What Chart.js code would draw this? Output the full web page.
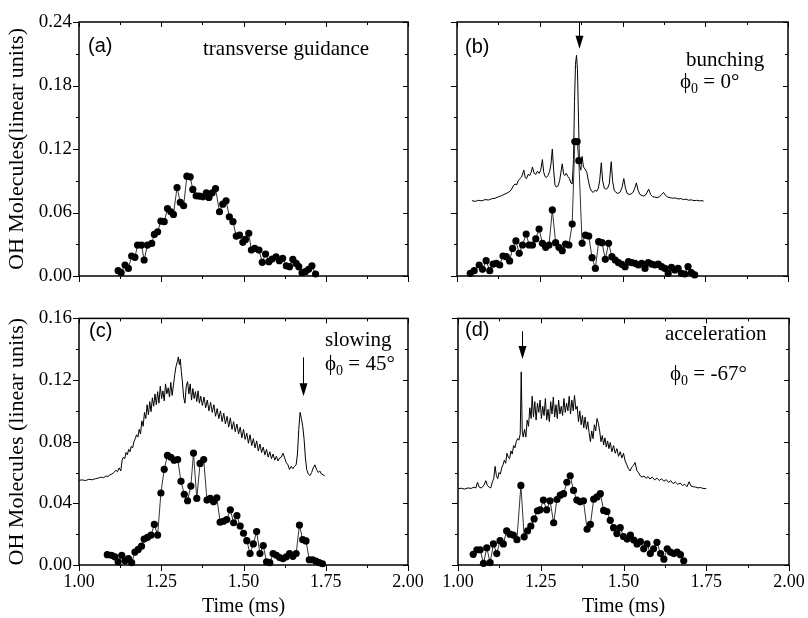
<!DOCTYPE html>
<html>
<head>
<meta charset="utf-8">
<script src="https://cdn.jsdelivr.net/npm/chart.js@4.4.1/dist/chart.umd.min.js"></script>
<style>
body { margin: 0; background: #fff; width: 808px; height: 618px; position: relative; overflow: hidden; }
canvas { position: absolute; }
</style>
</head>
<body>
<canvas id="pa" width="420" height="300" style="left:0;top:0"></canvas>
<canvas id="pb" width="388" height="300" style="left:420px;top:0"></canvas>
<canvas id="pc" width="440" height="318" style="left:0;top:300px"></canvas>
<canvas id="pd" width="388" height="318" style="left:420px;top:300px"></canvas>
<script>
// ---- data (time in ms, signal in linear units) ----

// (a) transverse guidance, measured points
const aDotT = [1.119,1.128,1.140,1.150,1.160,1.170,1.178,1.190,1.198,1.208,
  1.221,1.229,1.239,1.249,1.259,1.269,1.279,1.287,1.298,1.308,
  1.318,1.328,1.338,1.346,1.356,1.366,1.377,1.387,1.395,1.405,
  1.415,1.427,1.437,1.447,1.457,1.468,1.478,1.488,1.498,1.506,
  1.516,1.524,1.534,1.547,1.557,1.567,1.577,1.587,1.599,1.609,
  1.619,1.630,1.640,1.650,1.660,1.668,1.678,1.688,1.698,1.708,1.719];
const aDotV = [0.0050,0.0031,0.0104,0.0072,0.0189,0.0176,0.0292,0.0292,0.0151,0.0292,
  0.0308,0.0393,0.0418,0.0519,0.0513,0.0638,0.0607,0.0582,0.0836,0.0695,
  0.0664,0.0943,0.0937,0.0818,0.0758,0.0755,0.0748,0.0786,0.0742,0.0786,
  0.0827,0.0607,0.0679,0.0711,0.0560,0.0513,0.0377,0.0387,0.0318,0.0346,
  0.0403,0.0245,0.0261,0.0245,0.0129,0.0208,0.0135,0.0160,0.0182,0.0145,
  0.0167,0.0097,0.0088,0.0157,0.0119,0.0088,0.0031,0.0041,0.0063,0.0097,0.0019];

// (b) bunching
const bDotT = [1.040,1.052,1.067,1.077,1.088,1.099,1.109,1.119,1.129,1.139,
  1.149,1.159,1.168,1.178,1.188,1.198,1.209,1.218,1.228,1.238,
  1.248,1.258,1.268,1.278,1.288,1.298,1.308,1.318,1.328,1.338,
  1.348,1.356,1.363,1.368,1.378,1.388,1.398,1.408,1.418,1.428,
  1.438,1.448,1.458,1.468,1.478,1.488,1.498,1.508,1.518,1.528,
  1.538,1.548,1.558,1.568,1.578,1.588,1.598,1.608,1.618,1.628,
  1.638,1.648,1.658,1.668,1.678,1.688,1.698,1.708,1.718];
const bDotV = [0.0025,0.0050,0.0104,0.0063,0.0145,0.0050,0.0113,0.0120,0.0104,0.0189,
  0.0183,0.0142,0.0261,0.0331,0.0214,0.0293,0.0397,0.0293,0.0293,0.0350,
  0.0444,0.0309,0.0271,0.0293,0.0624,0.0315,0.0271,0.0239,0.0302,0.0293,
  0.0491,0.1270,0.1270,0.1090,0.0309,0.0387,0.0378,0.0173,0.0072,0.0324,
  0.0315,0.0158,0.0309,0.0183,0.0151,0.0126,0.0110,0.0088,0.0135,0.0126,
  0.0120,0.0104,0.0120,0.0072,0.0126,0.0113,0.0104,0.0113,0.0088,0.0072,
  0.0025,0.0082,0.0057,0.0072,0.0025,0.0019,0.0088,0.0031,0.0010];
const bTraceT = [1.045,1.055,1.065,1.075,1.085,1.095,1.105,1.115,1.125,1.135,
  1.145,1.155,1.163,1.170,1.175,1.180,1.185,1.190,1.195,1.202,
  1.206,1.210,1.215,1.220,1.224,1.228,1.233,1.238,1.243,1.248,
  1.253,1.258,1.262,1.266,1.270,1.275,1.280,1.284,1.288,1.292,
  1.296,1.300,1.305,1.310,1.314,1.318,1.322,1.326,1.330,1.335,
  1.340,1.344,1.348,1.352,1.355,1.358,1.361,1.364,1.367,1.370,
  1.374,1.378,1.382,1.387,1.392,1.397,1.402,1.407,1.412,1.417,
  1.422,1.427,1.431,1.436,1.440,1.445,1.450,1.455,1.460,1.466,
  1.470,1.475,1.480,1.486,1.492,1.498,1.504,1.509,1.514,1.520,
  1.526,1.532,1.537,1.542,1.547,1.553,1.559,1.565,1.571,1.579,
  1.585,1.591,1.598,1.605,1.612,1.618,1.624,1.630,1.637,1.644,
  1.652,1.660,1.668,1.676,1.684,1.692,1.700,1.708,1.716,1.724,
  1.732,1.740,1.745];
const bTraceV = [.0712,.0705,.0715,.0710,.0722,.0718,.0730,.0735,.0748,.0760,
  .0775,.0790,.0810,.0850,.0870,.0860,.0900,.0920,.0935,.1000,
  .0930,.0920,.0960,.0950,.0980,.1030,.0970,.0960,.0990,.0970,
  .1000,.1100,.0980,.0940,.0930,.0950,.0990,.1060,.1200,.1000,
  .0860,.0840,.0850,.0900,.0980,.1060,.0960,.0950,.0970,.0940,
  .0920,.0880,.0870,.1100,.1650,.2000,.2085,.1950,.1500,.1050,
  .1000,.1130,.1030,.1010,.0980,.0900,.0830,.0800,.0790,.0810,
  .0800,.0830,.0900,.1070,.0900,.0830,.0820,.0830,.0870,.1080,
  .0900,.0810,.0790,.0780,.0790,.0830,.0920,.0830,.0780,.0770,
  .0775,.0790,.0830,.0880,.0810,.0770,.0760,.0755,.0770,.0820,
  .0770,.0750,.0745,.0740,.0750,.0770,.0790,.0760,.0745,.0740,
  .0735,.0738,.0728,.0732,.0722,.0726,.0716,.0720,.0712,.0715,
  .0710,.0712,.0708];
const bArrow = [1.368, 0.240, 0.2148];   // time, shaft top, tip

// (c) slowing
const cDotT = [1.086,1.099,1.109,1.119,1.130,1.140,1.150,1.160,1.170,1.180,
  1.190,1.198,1.208,1.219,1.229,1.239,1.249,1.259,1.269,1.279,
  1.289,1.300,1.310,1.320,1.330,1.340,1.348,1.358,1.368,1.379,
  1.389,1.399,1.409,1.419,1.429,1.439,1.449,1.460,1.470,1.480,
  1.490,1.500,1.510,1.520,1.530,1.540,1.550,1.560,1.570,1.580,
  1.590,1.600,1.610,1.620,1.630,1.640,1.650,1.660,1.670,1.680,
  1.690,1.700,1.710,1.720,1.730,1.740];
const cDotV = [0.0067,0.0063,0.0053,0.0021,0.0063,0.0027,0.0042,0.0015,0.0084,0.0101,
  0.0122,0.0168,0.0179,0.0194,0.0263,0.0194,0.0467,0.0621,0.0711,0.0699,
  0.0680,0.0684,0.0543,0.0459,0.0417,0.0512,0.0726,0.0432,0.0659,0.0684,
  0.0421,0.0432,0.0410,0.0436,0.0278,0.0284,0.0295,0.0358,0.0274,0.0320,
  0.0253,0.0206,0.0158,0.0074,0.0137,0.0217,0.0074,0.0126,0.0021,0.0015,
  0.0074,0.0063,0.0048,0.0042,0.0053,0.0074,0.0056,0.0074,0.0259,0.0164,
  0.0156,0.0034,0.0034,0.0025,0.0015,0.0008];
const cTraceT = [1.000,1.010,1.020,1.030,1.040,1.050,1.060,1.068,1.075,1.082,
  1.088,1.094,1.100,1.106,1.112,1.117,1.122,1.127,1.131,1.135,
  1.139,1.143,1.147,1.151,1.155,1.159,1.163,1.167,1.171,1.175,
  1.179,1.183,1.187,1.191,1.195,1.199,1.203,1.207,1.211,1.215,
  1.219,1.223,1.227,1.231,1.235,1.239,1.243,1.247,1.251,1.255,
  1.259,1.263,1.267,1.271,1.275,1.279,1.283,1.287,1.291,1.295,
  1.299,1.302,1.305,1.308,1.311,1.314,1.318,1.322,1.326,1.330,
  1.334,1.338,1.342,1.346,1.350,1.354,1.358,1.362,1.366,1.370,
  1.375,1.380,1.385,1.390,1.395,1.400,1.405,1.410,1.415,1.420,
  1.425,1.430,1.435,1.440,1.445,1.450,1.455,1.460,1.465,1.470,
  1.475,1.480,1.485,1.490,1.495,1.500,1.505,1.510,1.515,1.520,
  1.525,1.530,1.535,1.540,1.545,1.550,1.555,1.560,1.565,1.570,
  1.575,1.580,1.585,1.590,1.595,1.600,1.605,1.610,1.615,1.620,
  1.625,1.630,1.635,1.640,1.645,1.650,1.655,1.660,1.664,1.668,
  1.672,1.676,1.680,1.684,1.688,1.692,1.697,1.702,1.707,1.712,
  1.717,1.722,1.727,1.732,1.737,1.742,1.747];
const cTraceV = [.0550,.0552,.0548,.0556,.0553,.0560,.0565,.0570,.0566,.0578,
  .0574,.0585,.0590,.0600,.0615,.0605,.0630,.0610,.0680,.0700,
  .0690,.0730,.0715,.0750,.0735,.0770,.0760,.0800,.0820,.0845,
  .0830,.0880,.0850,.0935,.0900,.0990,.0950,.1040,.0975,.1060,
  .0995,.1085,.1030,.1110,.1040,.1125,.1050,.1160,.1080,.1130,
  .1065,.1175,.1110,.1150,.1090,.1185,.1100,.1165,.1235,.1290,
  .1320,.1350,.1300,.1335,.1255,.1195,.1090,.1050,.1160,.1190,
  .1110,.1175,.1070,.1145,.1080,.1125,.1060,.1130,.1050,.1095,
  .1035,.1090,.1020,.1070,.1000,.1055,.0990,.1040,.0965,.1015,
  .0950,.1000,.0930,.0985,.0915,.0965,.0895,.0955,.0880,.0930,
  .0865,.0915,.0850,.0895,.0825,.0880,.0815,.0855,.0790,.0845,
  .0775,.0820,.0760,.0805,.0740,.0785,.0730,.0765,.0715,.0750,
  .0700,.0735,.0690,.0720,.0680,.0705,.0675,.0695,.0700,.0725,
  .0695,.0665,.0650,.0620,.0640,.0625,.0640,.0650,.0720,.0880,
  .0990,.0950,.0900,.0820,.0700,.0620,.0590,.0580,.0600,.0630,
  .0650,.0620,.0600,.0610,.0590,.0585,.0578];
const cArrow = [1.681, 0.1347, 0.1095];

// (d) acceleration
const dDotT = [1.046,1.057,1.067,1.077,1.087,1.097,1.107,1.117,1.127,1.137,
  1.147,1.157,1.167,1.178,1.190,1.200,1.210,1.220,1.230,1.240,
  1.248,1.258,1.268,1.278,1.289,1.299,1.309,1.319,1.329,1.339,
  1.349,1.359,1.369,1.379,1.390,1.400,1.410,1.420,1.430,1.440,
  1.450,1.460,1.470,1.480,1.490,1.500,1.511,1.521,1.531,1.541,
  1.551,1.561,1.571,1.581,1.591,1.601,1.612,1.622,1.632,1.642,
  1.652,1.662,1.672,1.682];
const dDotV = [0.0069,0.0099,0.0099,0.0011,0.0112,0.0015,0.0137,0.0074,0.0158,0.0137,
  0.0221,0.0200,0.0194,0.0164,0.0516,0.0183,0.0221,0.0253,0.0299,0.0352,
  0.0358,0.0421,0.0358,0.0417,0.0274,0.0425,0.0453,0.0463,0.0537,0.0579,
  0.0484,0.0421,0.0410,0.0417,0.0232,0.0263,0.0427,0.0442,0.0463,0.0354,
  0.0347,0.0290,0.0242,0.0204,0.0242,0.0185,0.0168,0.0194,0.0162,0.0137,
  0.0152,0.0105,0.0137,0.0074,0.0105,0.0147,0.0074,0.0038,0.0105,0.0084,
  0.0074,0.0084,0.0067,0.0027];
const dTraceT = [1.000,1.010,1.020,1.030,1.040,1.048,1.054,1.059,1.064,1.070,
  1.076,1.080,1.084,1.089,1.094,1.099,1.104,1.108,1.112,1.116,
  1.120,1.124,1.128,1.132,1.136,1.140,1.144,1.148,1.152,1.156,
  1.160,1.164,1.168,1.172,1.176,1.180,1.184,1.188,1.191,1.194,
  1.197,1.201,1.205,1.209,1.213,1.217,1.221,1.224,1.228,1.232,
  1.236,1.240,1.244,1.248,1.252,1.256,1.260,1.264,1.268,1.272,
  1.276,1.280,1.284,1.288,1.292,1.296,1.300,1.304,1.308,1.312,
  1.316,1.320,1.324,1.328,1.332,1.336,1.340,1.344,1.348,1.352,
  1.356,1.360,1.364,1.368,1.372,1.376,1.380,1.384,1.388,1.392,
  1.396,1.400,1.404,1.408,1.412,1.416,1.420,1.424,1.428,1.432,
  1.436,1.440,1.444,1.448,1.452,1.456,1.460,1.465,1.470,1.475,
  1.480,1.485,1.490,1.495,1.500,1.505,1.510,1.515,1.520,1.525,
  1.530,1.535,1.540,1.545,1.550,1.556,1.562,1.568,1.574,1.580,
  1.587,1.594,1.601,1.608,1.615,1.622,1.629,1.636,1.643,1.650,
  1.657,1.664,1.671,1.678,1.685,1.692,1.698,1.704,1.711,1.718,
  1.725,1.732,1.740,1.750];
const dTraceV = [.0495,.0498,.0493,.0500,.0497,.0505,.0500,.0537,.0505,.0500,
  .0510,.0525,.0547,.0515,.0505,.0500,.0540,.0560,.0640,.0580,
  .0560,.0600,.0590,.0630,.0650,.0680,.0660,.0725,.0700,.0690,
  .0740,.0720,.0775,.0760,.0800,.0820,.0810,.0850,.1253,.0870,
  .0830,.0880,.0830,.0940,.0900,.1020,.0950,.1095,.0960,.1060,
  .0940,.1050,.0990,.1070,.0950,.1030,.0970,.1080,.0940,.1010,
  .0930,.1060,.0980,.1090,.0960,.1040,.0950,.1070,.0980,.1030,
  .0970,.1080,.0990,.1050,.1000,.1095,.0980,.1070,.1000,.1100,
  .1010,.1030,.0930,.1000,.0910,.0970,.0890,.0960,.0880,.0930,
  .0860,.0800,.0870,.0820,.0910,.0870,.0950,.0920,.0870,.0800,
  .0840,.0780,.0825,.0765,.0805,.0755,.0795,.0735,.0775,.0725,
  .0755,.0705,.0735,.0695,.0725,.0675,.0650,.0625,.0610,.0635,
  .0645,.0665,.0615,.0600,.0580,.0570,.0578,.0562,.0574,.0558,
  .0570,.0552,.0564,.0548,.0560,.0543,.0554,.0536,.0547,.0528,
  .0538,.0523,.0532,.0516,.0524,.0508,.0540,.0512,.0508,.0505,
  .0500,.0503,.0497,.0495];
const dArrow = [1.192, 0.1516, 0.1337];

// ---- drawing ----
const SERIF = "'Liberation Serif', 'Times New Roman', serif";
const SANS = "'Liberation Sans', Arial, sans-serif";
Chart.defaults.color = '#000';
Chart.defaults.font.family = SERIF;

function isMajor(v, step) {
    const r = v / step;
    return Math.abs(r - Math.round(r)) < 1e-6;
}
function pts(t, v) {
    return t.map((x, i) => ({ x: x, y: v[i] }));
}

// frame, tick marks, arrow and in-plot labels
function makeDeco(cfg) {
    return {
        id: 'deco',
        afterDraw(chart) {
            const ctx = chart.ctx, a = chart.chartArea;
            const x = chart.scales.x, y = chart.scales.y;
            ctx.save();
            ctx.strokeStyle = '#000';
            ctx.fillStyle = '#000';
            ctx.lineWidth = 1;
            x.ticks.forEach(tk => {
                const p = Math.round(x.getPixelForValue(tk.value)) + 0.5;
                const big = isMajor(tk.value - 1, 0.25);
                ctx.beginPath();
                ctx.moveTo(p, a.bottom); ctx.lineTo(p, a.bottom + (big ? 6 : 3));
                ctx.moveTo(p, a.top); ctx.lineTo(p, a.top + (big ? 5 : 3));
                ctx.stroke();
            });
            y.ticks.forEach(tk => {
                const p = Math.round(y.getPixelForValue(tk.value)) + 0.5;
                const big = isMajor(tk.value, cfg.ymajor);
                ctx.beginPath();
                ctx.moveTo(a.left, p); ctx.lineTo(a.left - (big ? 6 : 3), p);
                ctx.moveTo(a.right, p); ctx.lineTo(a.right - (big ? 5 : 3), p);
                ctx.stroke();
            });
            ctx.lineWidth = 1.5;
            ctx.strokeRect(a.left, a.top, a.right - a.left, a.bottom - a.top);

            if (cfg.arrow) {
                const ax = Math.round(x.getPixelForValue(cfg.arrow[0])) + 0.5;
                const y0 = y.getPixelForValue(cfg.arrow[1]);
                const y1 = y.getPixelForValue(cfg.arrow[2]);
                ctx.lineWidth = 1;
                ctx.beginPath();
                ctx.moveTo(ax, y0); ctx.lineTo(ax, y1 - 10);
                ctx.stroke();
                ctx.beginPath();
                ctx.moveTo(ax - 4, y1 - 13);
                ctx.lineTo(ax + 4, y1 - 13);
                ctx.lineTo(ax, y1);
                ctx.closePath();
                ctx.fill();
            }

            ctx.textAlign = 'left';
            ctx.textBaseline = 'alphabetic';
            cfg.texts.forEach(tx => {
                let cx = tx.x;
                tx.parts.forEach(p => {
                    ctx.font = p.size + 'px ' + (p.sans ? SANS : SERIF);
                    ctx.fillText(p.s, cx, tx.y + (p.dy || 0));
                    cx += ctx.measureText(p.s).width;
                });
            });
            ctx.restore();
        }
    };
}

function phi(x, y, rest) {
    return { x: x, y: y, parts: [
        { s: '\u03d5', size: 21 },
        { s: '0', size: 14, dy: 5 },
        { s: rest, size: 21 }
    ] };
}

function panel(id, cfg) {
    const sets = [
        {
            data: pts(cfg.dotT, cfg.dotV),
            borderColor: '#333',
            borderWidth: 1,
            pointRadius: 3.6,
            pointBackgroundColor: '#000',
            pointBorderWidth: 0,
            tension: 0,
            clip: false
        }
    ];
    if (cfg.traceT) {
        sets.push({
            data: pts(cfg.traceT, cfg.traceV),
            borderColor: '#000',
            borderWidth: 1,
            pointRadius: 0,
            tension: 0
        });
    }
    return new Chart(document.getElementById(id), {
        type: 'line',
        data: { datasets: sets },
        options: {
            responsive: false,
            animation: false,
            events: [],
            layout: { padding: { left: 0, top: cfg.top, right: cfg.right, bottom: 0 } },
            plugins: { legend: { display: false }, tooltip: { enabled: false } },
            scales: {
                x: {
                    type: 'linear',
                    min: 1, max: 2,
                    grid: { display: false, drawTicks: false },
                    border: { display: false },
                    ticks: {
                        stepSize: 0.125,
                        autoSkip: false,
                        maxRotation: 0,
                        padding: 6,
                        font: { family: SERIF, size: 18 },
                        callback: v => (cfg.xLabels && isMajor(v - 1, 0.25)) ? v.toFixed(2) : ''
                    },
                    title: {
                        display: cfg.xLabels,
                        text: 'Time (ms)',
                        font: { family: SERIF, size: 20, lineHeight: 1 },
                        padding: { top: 0, bottom: 1 }
                    },
                    afterFit: s => { s.height = cfg.xh; s.paddingLeft = 0; s.paddingRight = 0; }
                },
                y: {
                    min: 0, max: cfg.ymax,
                    grid: { display: false, drawTicks: false },
                    border: { display: false },
                    ticks: {
                        stepSize: cfg.ystep,
                        autoSkip: false,
                        padding: 7,
                        font: { family: SERIF, size: 19 },
                        callback: v => (cfg.ytitle && isMajor(v, cfg.ymajor)) ? v.toFixed(2) : ''
                    },
                    title: {
                        display: !!cfg.ytitle,
                        text: cfg.ytitle || '',
                        font: { family: SERIF, size: 22, lineHeight: 1 },
                        padding: { top: 6, bottom: 0 }
                    },
                    afterFit: s => { s.width = cfg.yw; }
                }
            }
        },
        plugins: [makeDeco(cfg)]
    });
}

panel('pa', {
    dotT: aDotT, dotV: aDotV,
    ymax: 0.24, ystep: 0.03, ymajor: 0.06,
    ytitle: 'OH Molecules(linear units)', xLabels: false,
    top: 22, right: 12, yw: 79, xh: 24,
    texts: [
        { x: 88, y: 52, parts: [{ s: '(a)', size: 20, sans: true }] },
        { x: 203, y: 55, parts: [{ s: 'transverse guidance', size: 21 }] }
    ]
});

panel('pb', {
    dotT: bDotT, dotV: bDotV, traceT: bTraceT, traceV: bTraceV,
    ymax: 0.24, ystep: 0.03, ymajor: 0.06,
    ytitle: null, xLabels: false,
    top: 22, right: 20, yw: 37, xh: 24,
    arrow: bArrow,
    texts: [
        { x: 45, y: 53, parts: [{ s: '(b)', size: 20, sans: true }] },
        { x: 266, y: 66, parts: [{ s: 'bunching', size: 21 }] },
        phi(260, 88, ' = 0\u00b0')
    ]
});

panel('pc', {
    dotT: cDotT, dotV: cDotV, traceT: cTraceT, traceV: cTraceV,
    ymax: 0.16, ystep: 0.02, ymajor: 0.04,
    ytitle: 'OH Molecules (linear units)', xLabels: true,
    top: 12, right: 32, yw: 79, xh: 53,
    arrow: cArrow,
    texts: [
        { x: 89, y: 37, parts: [{ s: '(c)', size: 20, sans: true }] },
        { x: 325, y: 46, parts: [{ s: 'slowing', size: 21 }] },
        phi(325, 70, ' = 45\u00b0')
    ]
});

panel('pd', {
    dotT: dDotT, dotV: dDotV, traceT: dTraceT, traceV: dTraceV,
    ymax: 0.16, ystep: 0.02, ymajor: 0.04,
    ytitle: null, xLabels: true,
    top: 12, right: 19, yw: 38, xh: 53,
    arrow: dArrow,
    texts: [
        { x: 45, y: 36, parts: [{ s: '(d)', size: 20, sans: true }] },
        { x: 245, y: 40, parts: [{ s: 'acceleration', size: 21 }] },
        phi(250, 80, ' = -67\u00b0')
    ]
});
</script>
</body>
</html>
